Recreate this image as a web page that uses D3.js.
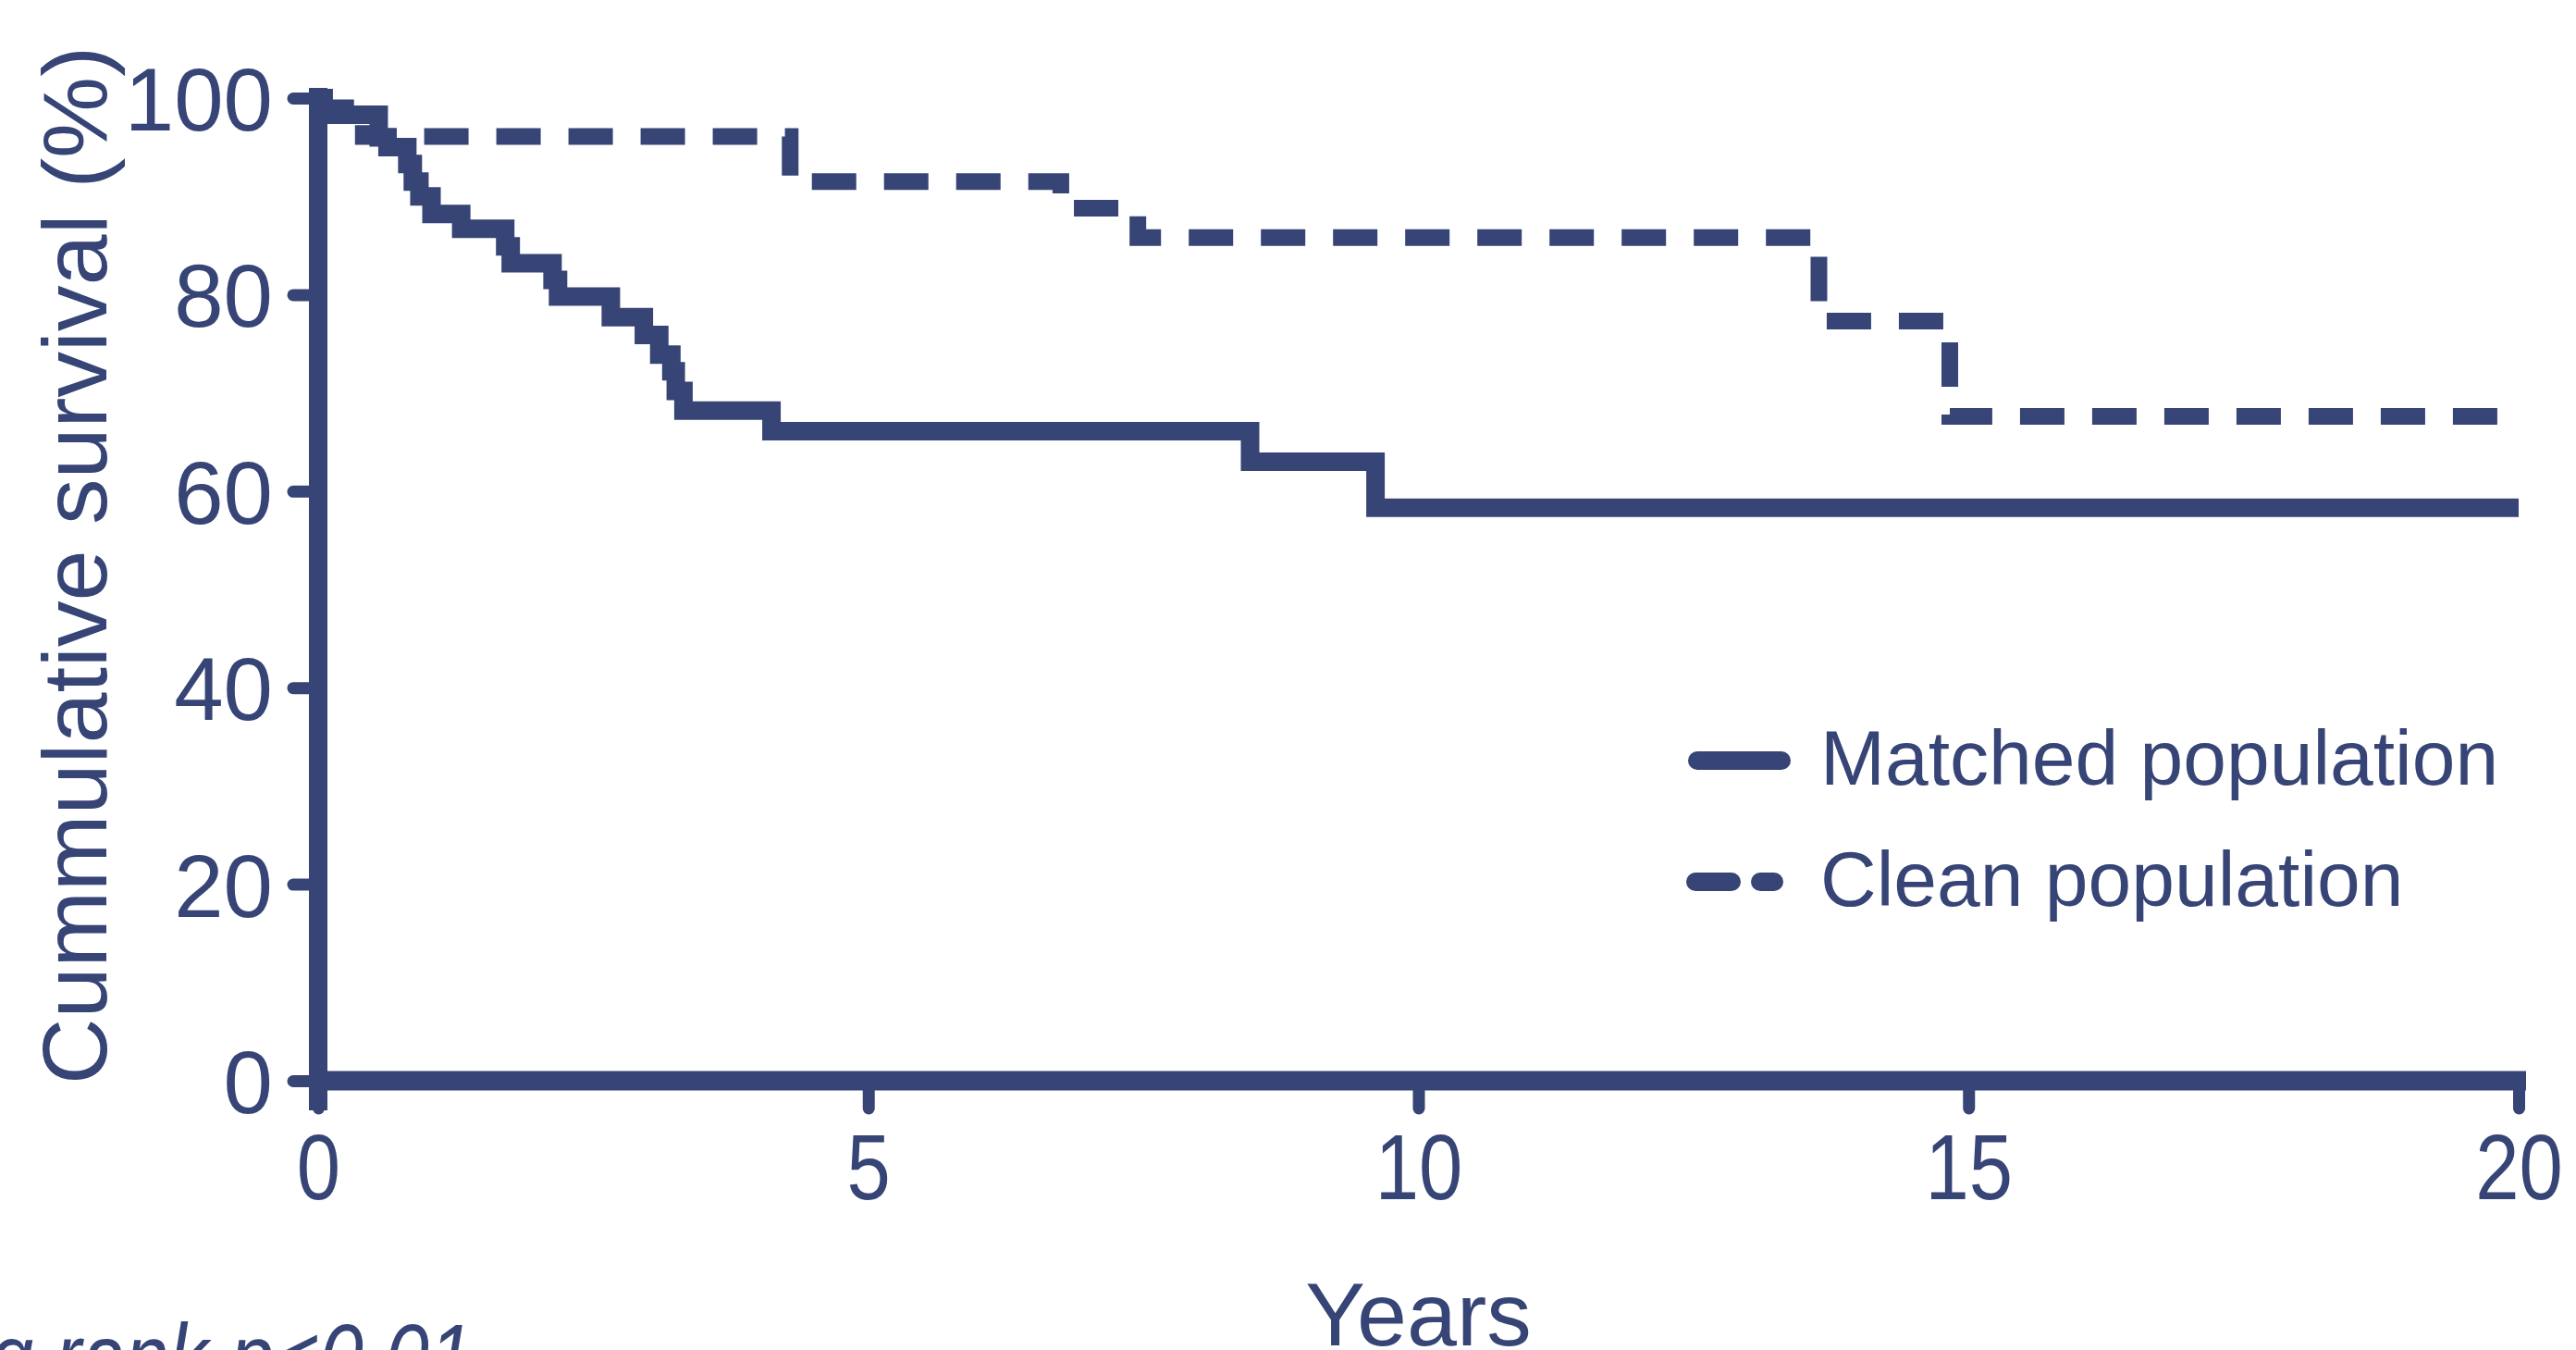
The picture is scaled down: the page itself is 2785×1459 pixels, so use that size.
<!DOCTYPE html>
<html>
<head>
<meta charset="utf-8">
<script src="https://cdn.jsdelivr.net/npm/d3@7"></script>
<style>
  html, body { margin: 0; padding: 0; background: #fff; }
  svg { display: block; font-family: "Liberation Sans", Arial, sans-serif; }
</style>
</head>
<body>
<svg id="chart"></svg>
<script>
// data
const matchedTimes    = [0, 0.05, 0.55, 0.63, 0.81, 0.86, 0.92, 1.03, 1.30, 1.70, 1.75, 2.13, 2.18, 2.66, 2.96, 3.10, 3.21, 3.25, 3.32, 4.12, 8.47, 9.61, 20];
const matchedSurvival = [100, 98.3, 96.0, 95.0, 93.3, 91.5, 90.0, 88.2, 86.7, 84.9, 83.2, 81.5, 79.8, 77.7, 75.9, 73.9, 72.2, 70.2, 68.2, 66.1, 63.0, 58.3, 58.3];

const cleanTimes    = [0, 0.05, 0.25, 0.41, 4.29, 6.75, 7.45, 13.64, 14.83, 20];
const cleanSurvival = [100, 99.0, 98.3, 96.1, 91.5, 88.8, 85.8, 77.3, 67.6, 67.6];

const xTicks = [0, 5, 10, 15, 20];
const yTicks = [0, 20, 40, 60, 80, 100];
const seriesNames = ['Matched population', 'Clean population'];

const W = 2785, H = 1459;
const col = '#364476';
const plotL = 344, plotR = 2723, plotT = 106, plotB = 1168;

const svg = d3.select('#chart').attr('width', W).attr('height', H);

const x = d3.scaleLinear().domain([0, 20]).range([plotL, plotR]);
const y = d3.scaleLinear().domain([0, 100]).range([plotB, plotT]);

// y axis
const yAxis = svg.append('g')
  .attr('transform', `translate(${plotL},0)`)
  .call(d3.axisLeft(y).tickValues(yTicks).tickSize(27).tickSizeOuter(0).tickPadding(22));
yAxis.select('.domain').remove();
yAxis.selectAll('.tick line')
  .attr('stroke', col).attr('stroke-width', 13).attr('stroke-linecap', 'round')
  .attr('x1', -4);
yAxis.selectAll('.tick text')
  .attr('fill', col).attr('font-size', 96).attr('font-family', '"Liberation Sans", Arial, sans-serif')
  .attr('dy', '0.36em');

// x axis
const xAxis = svg.append('g')
  .attr('transform', `translate(0,${plotB})`)
  .call(d3.axisBottom(x).tickValues(xTicks).tickSize(30).tickSizeOuter(0).tickPadding(26));
xAxis.select('.domain').remove();
xAxis.selectAll('.tick line')
  .attr('stroke', col).attr('stroke-width', 13).attr('stroke-linecap', 'round');
xAxis.selectAll('.tick text')
  .attr('fill', col).attr('font-size', 100).attr('font-family', '"Liberation Sans", Arial, sans-serif')
  .attr('dy', '0.72em')
  .attr('transform', 'scale(0.85,1)');

// axis lines (thick)
svg.append('line')
  .attr('x1', x(0)).attr('x2', x(0))
  .attr('y1', y(100) - 11).attr('y2', y(0) + 32)
  .attr('stroke', col).attr('stroke-width', 20);
svg.append('line')
  .attr('x1', x(0) - 10).attr('x2', x(20) + 8)
  .attr('y1', y(0)).attr('y2', y(0))
  .attr('stroke', col).attr('stroke-width', 21);

// survival curves
const step = d3.line()
  .x(d => x(d[0]))
  .y(d => y(d[1]))
  .curve(d3.curveStepAfter);

svg.append('path')
  .datum(d3.zip(matchedTimes, matchedSurvival))
  .attr('d', step)
  .attr('fill', 'none')
  .attr('stroke', col)
  .attr('stroke-width', 20)
  .attr('stroke-linejoin', 'miter');

svg.append('path')
  .datum(d3.zip(cleanTimes, cleanSurvival))
  .attr('d', step)
  .attr('fill', 'none')
  .attr('stroke', col)
  .attr('stroke-width', 18)
  .attr('stroke-dasharray', '48,30')
  .attr('stroke-linejoin', 'miter');

// legend
const legend = svg.append('g');
legend.append('line')
  .attr('x1', 1835).attr('x2', 1926).attr('y1', 822).attr('y2', 822)
  .attr('stroke', col).attr('stroke-width', 20).attr('stroke-linecap', 'round');
legend.append('line')
  .attr('x1', 1833).attr('x2', 1918).attr('y1', 953).attr('y2', 953)
  .attr('stroke', col).attr('stroke-width', 20).attr('stroke-linecap', 'round')
  .attr('stroke-dasharray', '39,31');
legend.selectAll('text.leg')
  .data(seriesNames)
  .enter().append('text')
  .attr('class', 'leg')
  .attr('x', 1968)
  .attr('y', (d, i) => 848 + i * 131)
  .attr('fill', col)
  .attr('font-size', 84)
  .text(d => d);

// axis titles
svg.append('text')
  .attr('transform', 'translate(115,611) rotate(-90)')
  .attr('text-anchor', 'middle')
  .attr('fill', col)
  .attr('font-size', 99)
  .text('Cummulative survival (%)');

svg.append('text')
  .attr('x', (plotL + plotR) / 2)
  .attr('y', 1454)
  .attr('text-anchor', 'middle')
  .attr('fill', col)
  .attr('font-size', 97)
  .text('Years');

// log-rank note (cut off at the bottom edge, like the source)
svg.append('text')
  .attr('transform', 'translate(511,1501) scale(0.85,1)')
  .attr('text-anchor', 'end')
  .attr('fill', col)
  .attr('font-size', 100)
  .attr('font-style', 'italic')
  .text('Log rank p<0.01');
</script>
</body>
</html>
